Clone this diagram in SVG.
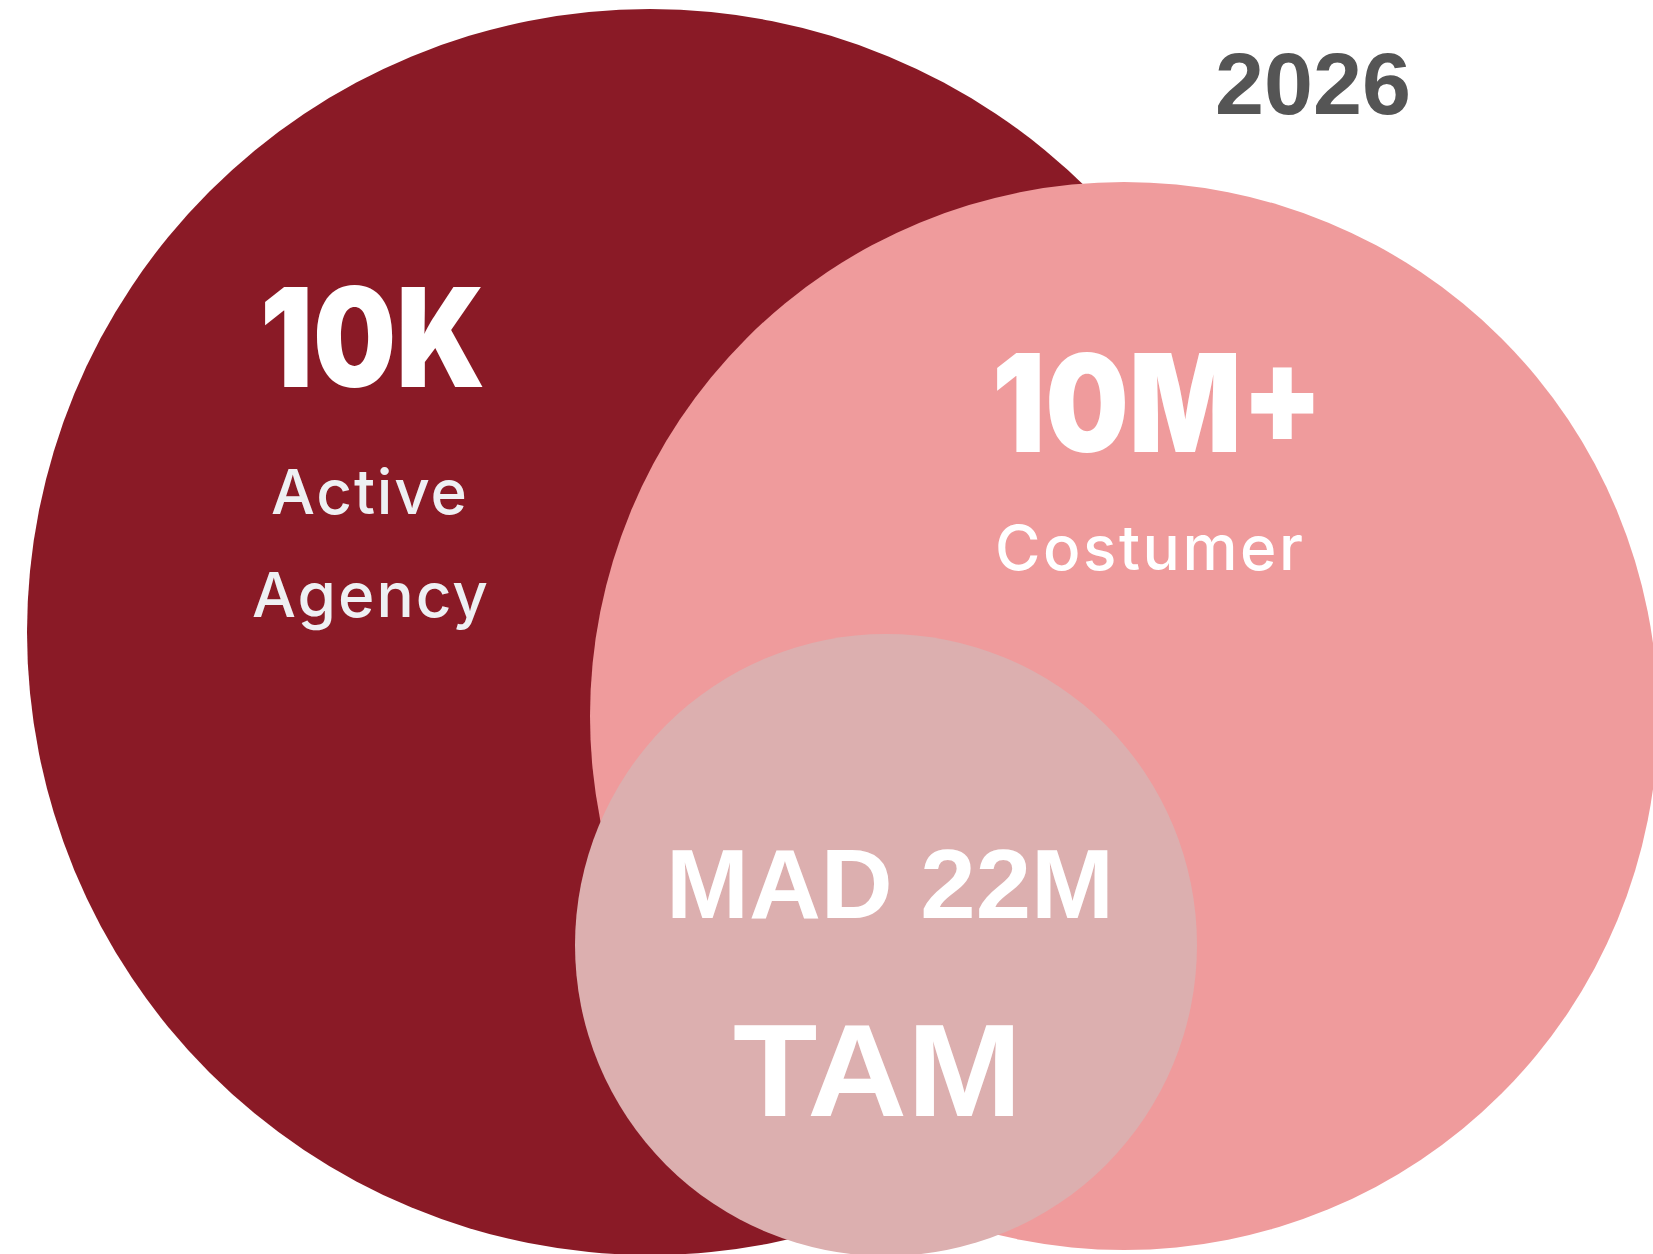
<svg xmlns="http://www.w3.org/2000/svg" width="1653" height="1254" viewBox="0 0 1653 1254">
  <style>
    .big { font-family: Inter, "Open Sans", "Liberation Sans", sans-serif; font-weight: 900; fill: #ffffff; text-anchor: middle; }
    .label { font-family: Inter, "Open Sans", "Liberation Sans", sans-serif; font-weight: 500; text-anchor: middle; }
    .arial { font-family: "Liberation Sans", Arial, sans-serif; font-weight: 700; text-anchor: middle; }
  </style>
  <rect width="1653" height="1254" fill="#ffffff"/>

  <!-- Active agencies -->
  <g id="agency">
    <circle cx="650" cy="632" r="623" fill="#8a1a26"/>
    <text class="big" x="372.5" y="387" font-size="138" textLength="225" lengthAdjust="spacingAndGlyphs">10K</text>
    <text class="label" x="369" y="514" font-size="62" fill="#eef0f3" textLength="196" lengthAdjust="spacing">Active</text>
    <text class="label" x="370" y="617" font-size="62" fill="#eef0f3" textLength="236" lengthAdjust="spacing">Agency</text>
  </g>

  <!-- Customers -->
  <g id="customer">
    <circle cx="1124" cy="716" r="534" fill="#ef9b9c"/>
    <text class="big" x="1157.5" y="452" font-size="136" textLength="331" lengthAdjust="spacingAndGlyphs">10M+</text>
    <text class="label" x="1149" y="570" font-size="62" fill="#ffffff" textLength="308" lengthAdjust="spacing">Costumer</text>
  </g>

  <!-- Total addressable market -->
  <g id="tam">
    <circle cx="886" cy="945" r="311" fill="#dcafaf"/>
    <text class="arial" x="890" y="918" font-size="99" fill="#ffffff" textLength="448" lengthAdjust="spacingAndGlyphs">MAD 22M</text>
    <text class="arial" x="877.5" y="1116" font-size="132" fill="#ffffff" textLength="289" lengthAdjust="spacingAndGlyphs">TAM</text>
  </g>

  <!-- Year -->
  <g id="year">
    <text class="arial" x="1313" y="114" font-size="88" fill="#555555" textLength="196" lengthAdjust="spacingAndGlyphs">2026</text>
  </g>
</svg>
